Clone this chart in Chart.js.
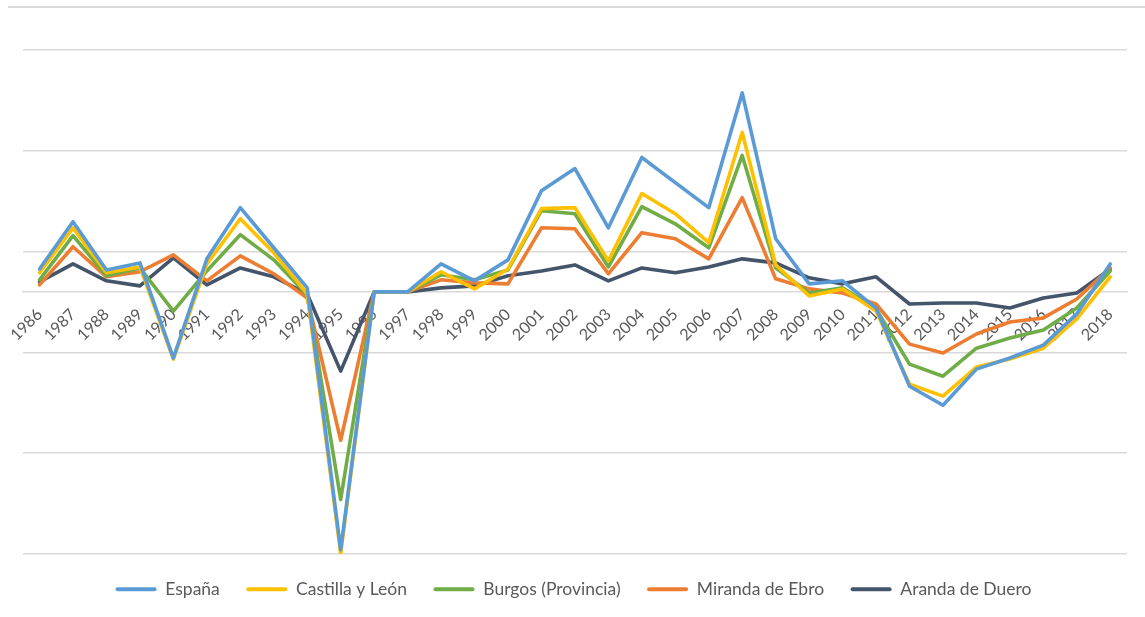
<!DOCTYPE html>
<html lang="es">
<head>
<meta charset="UTF-8">
<title>Evolución 1986-2018</title>
<script src="https://cdn.jsdelivr.net/npm/chart.js@4.4.1/dist/chart.umd.min.js"></script>
<style>
  body { margin: 0; background: #fff; }
  #wrap { position: relative; width: 1145px; height: 617px; }
  #topRule { position: absolute; left: 8px; right: 0; top: 6px; border-top: 2px solid #d9d9d9; }
</style>
</head>
<body>
<div id="wrap">
  <div id="topRule"></div>
  <canvas id="chart"></canvas>
</div>
<script>
// categorias (años)
const years = ['1986','1987','1988','1989','1990','1991','1992','1993','1994','1995','1996',
  '1997','1998','1999','2000','2001','2002','2003','2004','2005','2006','2007','2008',
  '2009','2010','2011','2012','2013','2014','2015','2016','2017','2018'];

// series
const espana = [1.14, 3.48, 1.09, 1.44, -3.28, 1.64, 4.18, 2.19, 0.20, -12.79, 0,
  0, 1.39, 0.55, 1.59, 5.02, 6.12, 3.18, 6.67, 5.42, 4.18, 9.87, 2.64,
  0.40, 0.55, -0.80, -4.68, -5.62, -3.83, -3.28, -2.64, -1.09, 1.39];
const castillaLeon = [0.95, 3.18, 0.95, 1.24, -3.33, 1.39, 3.63, 1.94, -0.10, -12.99, 0,
  0, 1.00, 0.15, 1.14, 4.13, 4.18, 1.54, 4.88, 3.88, 2.44, 7.91, 1.34,
  -0.20, 0.15, -0.95, -4.58, -5.17, -3.73, -3.33, -2.79, -1.34, 0.75];
const burgos = [0.60, 2.79, 0.80, 1.19, -0.95, 1.04, 2.84, 1.59, -0.15, -10.30, 0,
  0, 0.85, 0.60, 1.09, 4.03, 3.88, 1.24, 4.23, 3.38, 2.19, 6.77, 1.19,
  -0.05, 0.20, -0.85, -3.58, -4.18, -2.79, -2.29, -1.89, -0.80, 1.04];
const miranda = [0.35, 2.24, 0.75, 1.00, 1.84, 0.55, 1.79, 0.90, -0.30, -7.36, 0,
  0, 0.60, 0.45, 0.40, 3.18, 3.13, 0.90, 2.94, 2.64, 1.64, 4.68, 0.65,
  0.15, -0.05, -0.60, -2.59, -3.03, -2.09, -1.49, -1.29, -0.35, 1.19];
const aranda = [0.50, 1.39, 0.55, 0.30, 1.69, 0.35, 1.19, 0.75, -0.10, -3.93, 0,
  0, 0.20, 0.30, 0.80, 1.04, 1.34, 0.55, 1.19, 0.95, 1.24, 1.64, 1.44,
  0.70, 0.40, 0.75, -0.60, -0.55, -0.55, -0.80, -0.30, -0.05, 1.14];

// valores de las lineas de division horizontales
const gridValues = [-13, -8, -3, 2, 7, 12];

function serie(label, data, color) {
  return {
    label: label,
    data: data,
    borderColor: color,
    backgroundColor: color,
    borderWidth: 3.6,
    pointRadius: 0,
    tension: 0,
    fill: false,
    borderCapStyle: 'round',
    borderJoinStyle: 'round'
  };
}

const ctx = document.getElementById('chart').getContext('2d');
new Chart(ctx, {
  type: 'line',
  data: {
    labels: years,
    datasets: [
      serie('España', espana, '#5b9bd5'),
      serie('Castilla y León', castillaLeon, '#ffc000'),
      serie('Burgos (Provincia)', burgos, '#70ad47'),
      serie('Miranda de Ebro', miranda, '#ed7d31'),
      serie('Aranda de Duero', aranda, '#44546a')
    ]
  },
  options: {
    responsive: true,
    maintainAspectRatio: false,
    animation: false,
    layout: { padding: { left: 20, right: 18, top: 50, bottom: 9 } },
    plugins: {
      tooltip: { enabled: false },
      legend: {
        position: 'bottom',
        labels: {
          boxWidth: 41,
          boxHeight: 4,
          padding: 26.5,
          color: '#595959',
          font: { family: 'Lato', size: 17.5 },
          generateLabels: function(chart) {
            const items = Chart.defaults.plugins.legend.labels.generateLabels(chart);
            items.forEach(function(it) {
              it.lineWidth = 0;
              it.fillStyle = it.strokeStyle;
              it.borderRadius = 2;
            });
            return items;
          }
        }
      }
    },
    scales: {
      x: {
        position: { y: 0 },
        offset: true,
        grid: { display: false, drawTicks: false },
        border: { display: true, color: '#d9d9d9', width: 1.5 },
        ticks: {
          minRotation: 45,
          maxRotation: 45,
          autoSkip: false,
          padding: 13,
          color: '#595959',
          font: { family: 'Lato', size: 16 }
        }
      },
      y: {
        min: -13,
        max: 12,
        afterBuildTicks: function(scale) {
          scale.ticks = gridValues.map(function(v) { return { value: v }; });
        },
        ticks: { display: false },
        grid: { color: '#d9d9d9', lineWidth: 1.5, drawTicks: false },
        border: { display: false }
      }
    }
  }
});
</script>
</body>
</html>
